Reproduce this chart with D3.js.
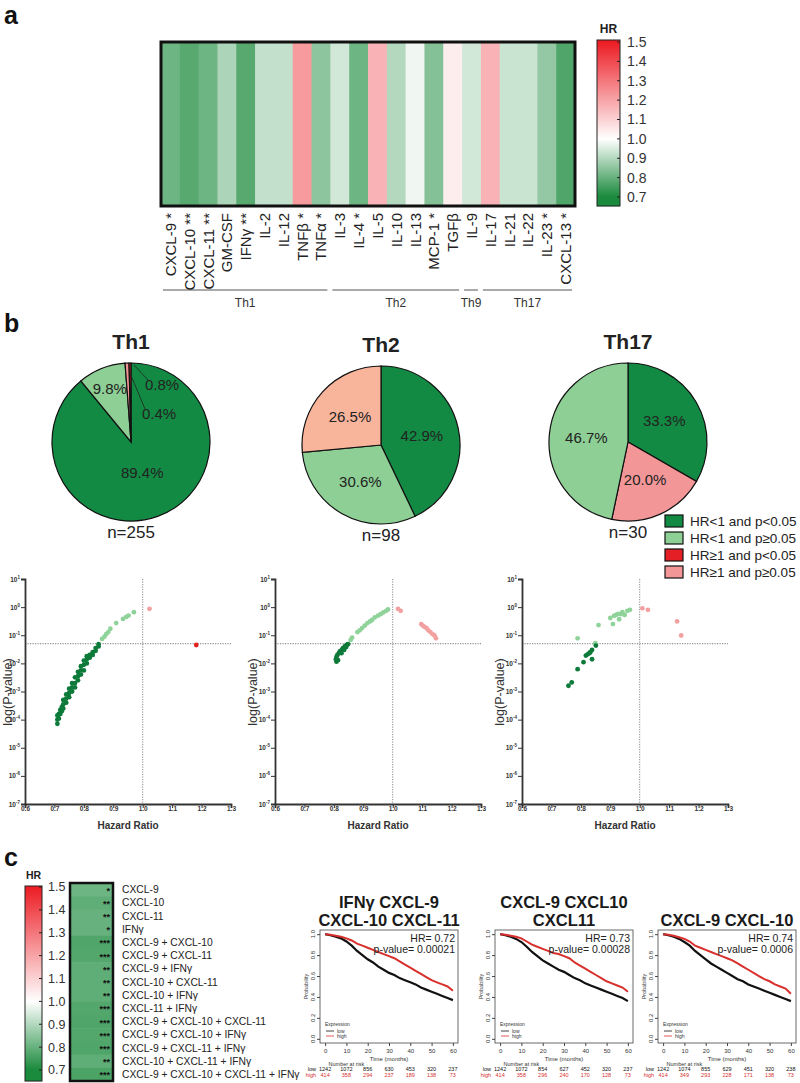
<!DOCTYPE html>
<html><head><meta charset="utf-8">
<script src="https://cdn.jsdelivr.net/npm/d3@7"></script>
<style>body{margin:0;background:#fff;} svg{display:block;font-family:"Liberation Sans",Arial,sans-serif;}</style>
</head><body><script>
// ---------------- DATA ----------------
const cytokines = ["CXCL-9","CXCL-10","CXCL-11","GM-CSF","IFNγ","IL-2","IL-12","TNFβ","TNFα","IL-3","IL-4","IL-5","IL-10","IL-13","MCP-1","TGFβ","IL-9","IL-17","IL-21","IL-22","IL-23","CXCL-13"];
const cytokineHR = [0.81,0.78,0.81,0.89,0.78,0.92,0.92,1.22,0.85,0.94,0.81,1.17,0.90,0.98,0.84,1.04,0.94,1.17,0.93,0.93,0.86,0.77];
const cytokineStars = ["*","**","**","","**","","","*","*","","*","","","","*","","","","","","*","*"];
const thGroups = ["Th1","Th2","Th9","Th17"];
const thGroupFirst = ["CXCL-9","IL-3","IL-9","IL-17"];
const thGroupLast = ["TNFα","TGFβ","IL-9","CXCL-13"];
const hrTicks = [0.7,0.8,0.9,1.0,1.1,1.2,1.3,1.4,1.5];

const pieTitles = ["Th1","Th2","Th17"];
const pieN = [255,98,30];
const th1Cats = ["sigLow","nsLow","nsHigh","sigHigh"];
const th1Shares = [89.4,9.8,0.8,0.4];
const th2Cats = ["sigLow","nsLow","nsHigh"];
const th2Shares = [42.9,30.6,26.5];
const th17Cats = ["sigLow","nsHigh","nsLow"];
const th17Shares = [33.3,20.0,46.7];
const legendCats = ["sigLow","nsLow","sigHigh","nsHigh"];
const legendLabels = ["HR<1 and p<0.05","HR<1 and p≥0.05","HR≥1 and p<0.05","HR≥1 and p≥0.05"];

// scatter points: [hazard ratio, p-value]
const th1Points = [[0.71,7.1e-5],[0.71,1.0e-4],[0.71,1.4e-4],[0.715,1.1e-4],[0.715,1.6e-4],[0.72,1.6e-4],[0.72,2.2e-4],[0.725,2.0e-4],[0.725,2.8e-4],
 [0.73,2.5e-4],[0.73,3.5e-4],[0.73,5.0e-4],[0.74,4.0e-4],[0.74,5.6e-4],[0.74,7.9e-4],[0.75,6.3e-4],[0.75,8.9e-4],[0.75,1.26e-3],
 [0.76,1.0e-3],[0.76,1.4e-3],[0.76,2.0e-3],[0.77,1.4e-3],[0.77,2.0e-3],[0.77,3.2e-3],[0.78,2.5e-3],[0.78,3.5e-3],[0.78,5.0e-3],
 [0.79,4.0e-3],[0.79,5.6e-3],[0.79,7.9e-3],[0.80,5.6e-3],[0.80,8.9e-3],[0.80,1.26e-2],[0.81,1.0e-2],[0.81,1.4e-2],[0.81,1.8e-2],
 [0.82,1.6e-2],[0.82,2.0e-2],[0.83,2.0e-2],[0.83,2.5e-2],[0.84,2.8e-2],[0.84,3.5e-2],[0.85,4.0e-2],[0.85,4.8e-2],
 [0.862,0.074],[0.870,0.089],[0.876,0.11],[0.883,0.13],[0.89,0.17],[0.91,0.27],[0.933,0.38],[0.944,0.45],[0.952,0.5],[0.97,0.66],
 [1.023,0.87],[1.182,0.045]];
const th2Points = [[0.809,0.0115],[0.807,0.014],[0.809,0.017],[0.812,0.02],[0.817,0.023],[0.82,0.026],[0.823,0.028],[0.828,0.031],[0.831,0.035],
 [0.837,0.04],[0.843,0.045],[0.848,0.048],[0.814,0.013],[0.826,0.023],[0.835,0.03],[0.842,0.038],
 [0.857,0.068],[0.862,0.083],[0.88,0.13],[0.888,0.15],[0.896,0.18],[0.905,0.22],[0.914,0.27],[0.923,0.31],[0.93,0.35],[0.939,0.43],
 [0.95,0.5],[0.959,0.56],[0.968,0.65],[0.978,0.74],[0.984,0.83],
 [1.018,0.87],[1.027,0.74],[1.097,0.25],[1.102,0.22],[1.108,0.2],[1.115,0.18],[1.121,0.15],[1.128,0.13],[1.135,0.11],[1.142,0.098],[1.147,0.078]];
const th17Points = [[0.789,0.078],[0.86,0.23],[0.90,0.41],[0.909,0.25],[0.919,0.53],[0.927,0.58],[0.93,0.37],[0.936,0.56],[0.949,0.53],
 [0.958,0.74],[0.967,0.8],[0.849,0.052],[0.941,0.66],[0.913,0.49],
 [0.851,0.043],[0.838,0.03],[0.832,0.025],[0.823,0.021],[0.817,0.019],[0.829,0.023],[0.809,0.011],[0.838,0.014],[0.789,0.0062],[0.769,0.0021],[0.758,0.0016],
 [1.009,0.91],[1.028,0.8],[1.127,0.31],[1.141,0.098]];

// panel c heatmap
const combos = ["CXCL-9","CXCL-10","CXCL-11","IFNγ","CXCL-9 + CXCL-10","CXCL-9 + CXCL-11","CXCL-9 + IFNγ","CXCL-10 + CXCL-11","CXCL-10 + IFNγ","CXCL-11 + IFNγ","CXCL-9 + CXCL-10 + CXCL-11","CXCL-9 + CXCL-10 + IFNγ","CXCL-9 + CXCL-11 + IFNγ","CXCL-10 + CXCL-11 + IFNγ","CXCL-9 + CXCL-10 + CXCL-11 + IFNγ"];
const comboHR = [0.81,0.79,0.80,0.80,0.77,0.775,0.79,0.79,0.79,0.775,0.77,0.775,0.77,0.79,0.765];
const comboStars = ["*","**","**","*","***","***","**","**","**","***","***","***","***","**","***"];

// Kaplan-Meier panels
const kmTitles = [["IFNγ CXCL-9","CXCL-10 CXCL-11"],["CXCL-9 CXCL10","CXCL11"],["CXCL-9 CXCL-10"]];
const kmHR = ["0.72","0.73","0.74"];
const kmPval = ["0.00021","0.00028","0.0006"];
const kmTimes = [0,2.5,5,7.5,10,12.5,15,17.5,20,22.5,25,27.5,30,32.5,35,37.5,40,42.5,45,47.5,50,52.5,55,57.5,60];
const km1Low  = [1,0.99,0.975,0.96,0.93,0.89,0.84,0.80,0.76,0.73,0.69,0.66,0.63,0.61,0.58,0.56,0.54,0.52,0.49,0.47,0.45,0.43,0.41,0.39,0.37];
const km1High = [1,0.995,0.985,0.975,0.96,0.94,0.91,0.89,0.87,0.85,0.83,0.81,0.79,0.77,0.74,0.71,0.68,0.65,0.62,0.59,0.56,0.54,0.52,0.50,0.46];
const km2Low  = [1,0.99,0.975,0.955,0.925,0.88,0.83,0.79,0.75,0.72,0.69,0.66,0.64,0.61,0.58,0.56,0.53,0.51,0.49,0.47,0.45,0.43,0.41,0.39,0.36];
const km2High = [1,0.995,0.985,0.975,0.96,0.93,0.90,0.88,0.86,0.84,0.82,0.81,0.79,0.77,0.73,0.70,0.67,0.64,0.61,0.58,0.55,0.53,0.51,0.49,0.45];
const km3Low  = [1,0.99,0.975,0.955,0.925,0.89,0.84,0.80,0.76,0.72,0.69,0.66,0.63,0.60,0.57,0.55,0.52,0.50,0.48,0.46,0.44,0.42,0.40,0.38,0.36];
const km3High = [1,0.995,0.985,0.97,0.955,0.93,0.89,0.87,0.85,0.83,0.81,0.79,0.77,0.75,0.72,0.69,0.66,0.63,0.60,0.57,0.55,0.52,0.50,0.48,0.43];
const kmRiskTimes = [0,10,20,30,40,50,60];
const km1RiskLow = [1242,1072,856,630,453,320,237], km1RiskHigh = [414,358,294,237,189,138,73];
const km2RiskLow = [1242,1072,854,627,452,320,237], km2RiskHigh = [414,358,296,240,170,128,73];
const km3RiskLow = [1242,1074,855,629,451,320,238], km3RiskHigh = [414,349,293,228,171,138,73];

// ---------------- DRAW ----------------
const svg = d3.select("body").append("svg").attr("width",800).attr("height",1083);
const hrColor = d3.scaleLinear().domain([0.7,1.0,1.5]).range(["#1a8a3c","#ffffff","#ec1c24"]).clamp(true);
const catColor = {sigLow:"#138a43", nsLow:"#8dcf95", sigHigh:"#e41f26", nsHigh:"#f39697"};
const dotColor = {sigLow:"#0d7a3a", nsLow:"#8fd39a", sigHigh:"#e3211c", nsHigh:"#f3a0a0"};

function panelLetter(t,x,y){ svg.append("text").attr("x",x).attr("y",y).attr("font-size",25).attr("font-weight","bold").attr("fill","#111").text(t); }
panelLetter("a",4,24); panelLetter("b",4,332); panelLetter("c",4,866);

function colorbar(x,w,yTop,yBot,ys,fs,labelX){
  const g = svg.append("g");
  const rows = d3.range(yTop,yBot,1);
  g.selectAll("rect").data(rows).join("rect").attr("x",x).attr("y",d=>d).attr("width",w).attr("height",1.2)
    .attr("fill",d=>hrColor(ys.invert(d+0.5)));
  g.append("rect").attr("x",x).attr("y",yTop).attr("width",w).attr("height",yBot-yTop).attr("fill","none").attr("stroke","#222").attr("stroke-width",1);
  g.selectAll("line.t").data(hrTicks).join("line").attr("x1",x+w-3).attr("x2",x+w).attr("y1",d=>ys(d)).attr("y2",d=>ys(d)).attr("stroke","#222");
  g.selectAll("text.t").data(hrTicks).join("text").attr("x",labelX).attr("y",d=>ys(d)).attr("dy","0.35em")
    .attr("font-size",fs).attr("fill","#333").text(d=>d3.format(".1f")(d));
  g.append("text").attr("x",x+w/2).attr("y",yTop-7).attr("text-anchor","middle").attr("font-size",fs-2).attr("font-weight","bold").attr("fill","#222").text("HR");
}

// ---- panel a ----
const xA = d3.scaleBand().domain(cytokines).range([161,575]);
const gA = svg.append("g");
gA.selectAll("rect.cell").data(cytokines).join("rect").attr("x",d=>xA(d)).attr("y",42).attr("width",xA.bandwidth()+0.6).attr("height",164)
  .attr("fill",(d,i)=>hrColor(cytokineHR[i]));
gA.append("rect").attr("x",161).attr("y",42).attr("width",414).attr("height",164).attr("fill","none").attr("stroke","#111").attr("stroke-width",3);
gA.selectAll("text.lab").data(cytokines).join("text")
  .attr("transform",d=>`translate(${xA(d)+xA.bandwidth()/2+5.5},213) rotate(-90)`)
  .attr("text-anchor","end").attr("font-size",15).attr("fill","#222")
  .text((d,i)=>cytokineStars[i] ? d+" "+cytokineStars[i] : d);
thGroups.forEach((name,i)=>{
  const x1 = xA(thGroupFirst[i])+2, x2 = xA(thGroupLast[i])+xA.bandwidth()-3;
  gA.append("line").attr("x1",x1).attr("x2",x2).attr("y1",290).attr("y2",290).attr("stroke","#555").attr("stroke-width",1);
  gA.append("text").attr("x",(x1+x2)/2).attr("y",307).attr("text-anchor","middle").attr("font-size",12).attr("fill","#333").text(name);
});
colorbar(597,23,40,206,d3.scaleLinear().domain([0.7,1.5]).range([197,42]),14,627);

// ---- panel b: pies ----
const pieCenters = [[131,442],[381,445],[628,442]];
const pieSets = [[th1Cats,th1Shares],[th2Cats,th2Shares],[th17Cats,th17Shares]];
const R = 79;
const pie = d3.pie().sort(null).value(d=>d.v);
const arc = d3.arc().innerRadius(0).outerRadius(R);
pieSets.forEach(([cats,shares],pi)=>{
  const [cx,cy] = pieCenters[pi];
  const g = svg.append("g").attr("transform",`translate(${cx},${cy})`);
  const arcs = pie(cats.map((c,i)=>({c,v:shares[i]})));
  g.selectAll("path").data(arcs).join("path").attr("d",arc)
    .attr("fill",d=> (pi===1 && d.data.c==="nsHigh") ? "#f9b49c" : catColor[d.data.c])
    .attr("stroke","#111").attr("stroke-width",1.2);
  arcs.forEach((a,i)=>{
    const mid = (a.startAngle+a.endAngle)/2;
    const lbl = d3.format(".1f")(a.data.v)+"%";
    if (a.data.v < 2) {
      const tgt = a.data.c==="nsHigh" ? [31,-57] : [28,-28];
      const src = a.data.c==="nsHigh" ? [3,-77] : [-1,-69];
      g.append("line").attr("x1",src[0]).attr("y1",src[1]).attr("x2",tgt[0]-14).attr("y2",tgt[1]-5).attr("stroke","#222").attr("stroke-width",0.8);
      g.append("text").attr("x",tgt[0]).attr("y",tgt[1]).attr("dy","0.35em").attr("text-anchor","middle").attr("font-size",15).attr("fill","#222").text(lbl);
    } else {
      const rr = (pi===0) ? (i===0 ? 0.42*R : 0.72*R) : 0.53*R;
      g.append("text").attr("x",Math.sin(mid)*rr).attr("y",-Math.cos(mid)*rr).attr("dy","0.35em").attr("text-anchor","middle")
        .attr("font-size",15).attr("fill","#222").text(lbl);
    }
  });
  svg.append("text").attr("x",cx).attr("y",cy-R-14).attr("text-anchor","middle").attr("font-size",21).attr("font-weight","bold").attr("fill","#222").text(pieTitles[pi]);
  svg.append("text").attr("x",cx).attr("y",cy+R+17).attr("text-anchor","middle").attr("font-size",17).attr("fill","#222").text("n="+pieN[pi]);
});
// legend
legendCats.forEach((c,i)=>{
  const y = 521 + i*17;
  svg.append("rect").attr("x",665).attr("y",y-6).attr("width",18).attr("height",12).attr("fill",catColor[c]).attr("stroke","#111").attr("stroke-width",1.2);
  svg.append("text").attr("x",690).attr("y",y).attr("dy","0.35em").attr("font-size",13.5).attr("fill","#222").text(legendLabels[i]);
});

// ---- panel b: scatters ----
function category(hr,p){ return (hr<1 ? (p<0.05?"sigLow":"nsLow") : (p<0.05?"sigHigh":"nsHigh")); }
function scatter(x0, pts){
  const g = svg.append("g");
  const xs = d3.scaleLinear().domain([0.6,1.3]).range([x0,x0+206]);
  const ys = d3.scaleLog().domain([1e-7,10]).range([804,579]);
  g.append("line").attr("x1",xs(1)).attr("x2",xs(1)).attr("y1",ys(10)).attr("y2",ys(1e-7)).attr("stroke","#888").attr("stroke-dasharray","1.2,1.3");
  g.append("line").attr("x1",xs(0.6)).attr("x2",xs(1.3)).attr("y1",ys(0.05)).attr("y2",ys(0.05)).attr("stroke","#777").attr("stroke-dasharray","1.2,1.3");
  g.selectAll("circle").data(pts).join("circle").attr("cx",d=>xs(d[0])).attr("cy",d=>ys(d[1])).attr("r",2.4)
    .attr("fill",d=>dotColor[category(d[0],d[1])]);
  const decades = [1e1,1e0,1e-1,1e-2,1e-3,1e-4,1e-5,1e-6,1e-7];
  const minor = [];
  for (let e=-7;e<1;e++) for (let k=2;k<10;k++) minor.push(k*Math.pow(10,e));
  const ya = g.append("g").attr("transform",`translate(${x0},0)`);
  ya.call(d3.axisLeft(ys).tickValues(minor).tickSize(2).tickFormat(""));
  ya.call(d3.axisLeft(ys).tickValues(decades).tickSize(4).tickFormat(""));
  ya.selectAll("path,line").attr("stroke","#333");
  ya.select("path").attr("stroke-width",1.8);
  g.selectAll("text.yl").data(decades).join("text").attr("x",x0-5).attr("y",d=>ys(d)+2.5).attr("text-anchor","end")
    .attr("font-size",6.5).attr("font-weight","bold").attr("fill","#333")
    .each(function(d){ const t=d3.select(this); t.append("tspan").text("10");
      t.append("tspan").attr("dy",-3).attr("font-size",4.5).text(Math.round(Math.log10(d))); });
  const xa = g.append("g").attr("transform",`translate(0,804)`);
  xa.call(d3.axisBottom(xs).tickValues(d3.range(0,36).map(i=>0.6+i*0.02)).tickSize(2).tickFormat(""));
  xa.call(d3.axisBottom(xs).tickValues(d3.range(0,8).map(i=>0.6+i*0.1)).tickSize(4).tickFormat(d3.format(".1f")));
  xa.selectAll("path,line").attr("stroke","#333");
  xa.select("path").attr("stroke-width",1.8);
  xa.selectAll("text").attr("font-size",6.5).attr("font-weight","bold").attr("fill","#333").attr("dy","0.5em").attr("y",4);
  const lx = Math.max(x0-18, 12);
  g.append("text").attr("transform",`translate(${lx},692) rotate(-90)`).attr("text-anchor","middle").attr("font-size",12.5).attr("fill","#333").text("log(P-value)");
  g.append("text").attr("x",x0+103).attr("y",829).attr("text-anchor","middle").attr("font-size",10).attr("font-weight","bold").attr("fill","#333").text("Hazard Ratio");
}
scatter(25, th1Points);
scatter(275, th2Points);
scatter(522, th17Points);

// ---- panel c heatmap ----
colorbar(25,17,886,1081,d3.scaleLinear().domain([0.7,1.5]).range([1070,887]),12.5,48);
const yC = d3.scaleBand().domain(combos).range([883,1081]);
const gC = svg.append("g");
gC.selectAll("rect.cell").data(combos).join("rect").attr("x",70).attr("y",d=>yC(d)).attr("width",43).attr("height",yC.bandwidth()+0.6)
  .attr("fill",(d,i)=>hrColor(comboHR[i]));
gC.append("rect").attr("x",70).attr("y",883).attr("width",43).attr("height",198).attr("fill","none").attr("stroke","#111").attr("stroke-width",2.5);
gC.selectAll("text.st").data(combos).join("text").attr("x",110).attr("y",d=>yC(d)+yC.bandwidth()/2+4).attr("text-anchor","end")
  .attr("font-size",9).attr("font-weight","bold").attr("fill","#111").text((d,i)=>comboStars[i]);
gC.selectAll("text.lab").data(combos).join("text").attr("x",122).attr("y",d=>yC(d)+yC.bandwidth()/2).attr("dy","0.35em")
  .attr("font-size",10.3).attr("fill","#222").text(d=>d);

// ---- panel c KM plots ----
const kmLefts = [320,495,658];
const kmSets = [[km1Low,km1High,km1RiskLow,km1RiskHigh],[km2Low,km2High,km2RiskLow,km2RiskHigh],[km3Low,km3High,km3RiskLow,km3RiskHigh]];
kmSets.forEach(([low,high,rl,rh],k)=>{
  const L = kmLefts[k], W = 138;
  const g = svg.append("g");
  const xs = d3.scaleLinear().domain([-2.4,62.4]).range([L,L+W]);
  const ys = d3.scaleLinear().domain([-0.04,1.04]).range([1043,930]);
  const line = d3.line().x((d,i)=>xs(kmTimes[i])).y(d=>ys(d));
  g.append("path").attr("d",line(low)).attr("fill","none").attr("stroke","#111").attr("stroke-width",2.2);
  g.append("path").attr("d",line(high)).attr("fill","none").attr("stroke","#d8302c").attr("stroke-width",2);
  g.append("rect").attr("x",L).attr("y",930).attr("width",W).attr("height",113).attr("fill","none").attr("stroke","#444").attr("stroke-width",0.8);
  const xa = g.append("g").attr("transform","translate(0,1043)").call(d3.axisBottom(xs).tickValues(kmRiskTimes).tickSize(3));
  xa.select("path").remove();
  xa.selectAll("line").attr("stroke","#444");
  xa.selectAll("text").attr("font-size",6).attr("fill","#333");
  const yticks = [0,0.2,0.4,0.6,0.8,1.0];
  const ya = g.append("g").attr("transform",`translate(${L},0)`).call(d3.axisLeft(ys).tickValues(yticks).tickSize(3).tickFormat(""));
  ya.select("path").remove(); ya.selectAll("line").attr("stroke","#444");
  g.selectAll("text.yt").data(yticks).join("text").attr("transform",d=>`translate(${L-5},${ys(d)}) rotate(-90)`).attr("text-anchor","middle")
    .attr("font-size",6).attr("fill","#333").text(d=>d3.format(".1f")(d));
  g.append("text").attr("transform",`translate(${L-12},${ys(0.5)}) rotate(-90)`).attr("text-anchor","middle").attr("font-size",5.5).attr("fill","#333").text("Probability");
  g.append("text").attr("x",L+W/2).attr("y",1061).attr("text-anchor","middle").attr("font-size",6).attr("fill","#333").text("Time (months)");
  g.append("text").attr("x",xs(10)).attr("y",1066).attr("text-anchor","middle").attr("font-size",5.5).attr("fill","#333").text("Number at risk");
  g.append("text").attr("x",xs(0)-9).attr("y",1071).attr("text-anchor","end").attr("font-size",5.5).attr("fill","#111").text("low");
  g.append("text").attr("x",xs(0)-9).attr("y",1077).attr("text-anchor","end").attr("font-size",5.5).attr("fill","#d8302c").text("high");
  g.selectAll("text.rl").data(rl).join("text").attr("x",(d,i)=>xs(kmRiskTimes[i])).attr("y",1071).attr("text-anchor","middle").attr("font-size",5.5).attr("fill","#111").text(d=>d);
  g.selectAll("text.rh").data(rh).join("text").attr("x",(d,i)=>xs(kmRiskTimes[i])).attr("y",1077).attr("text-anchor","middle").attr("font-size",5.5).attr("fill","#d8302c").text(d=>d);
  // legend
  g.append("text").attr("x",L+5).attr("y",1026).attr("font-size",5).attr("fill","#333").text("Expression");
  g.append("line").attr("x1",L+6).attr("x2",L+14).attr("y1",1031).attr("y2",1031).attr("stroke","#111").attr("stroke-width",0.8);
  g.append("text").attr("x",L+17).attr("y",1032.5).attr("font-size",5).attr("fill","#333").text("low");
  g.append("line").attr("x1",L+6).attr("x2",L+14).attr("y1",1036).attr("y2",1036).attr("stroke","#d8302c").attr("stroke-width",0.8);
  g.append("text").attr("x",L+17).attr("y",1037.5).attr("font-size",5).attr("fill","#333").text("high");
  // HR text
  g.append("text").attr("x",L+W-3).attr("y",942).attr("text-anchor","end").attr("font-size",10.5).attr("fill","#222").text("HR= "+kmHR[k]);
  g.append("text").attr("x",L+W-3).attr("y",953).attr("text-anchor","end").attr("font-size",10.5).attr("fill","#222").text("p-value= "+kmPval[k]);
  // title
  const lines = kmTitles[k];
  lines.forEach((t,j)=>{
    const y = 926 - (lines.length-1-j)*18;
    svg.append("text").attr("x",L+W/2).attr("y",y).attr("text-anchor","middle").attr("font-size",16.5).attr("font-weight","bold").attr("fill","#1a1a1a").text(t);
  });
});
</script></body></html>
